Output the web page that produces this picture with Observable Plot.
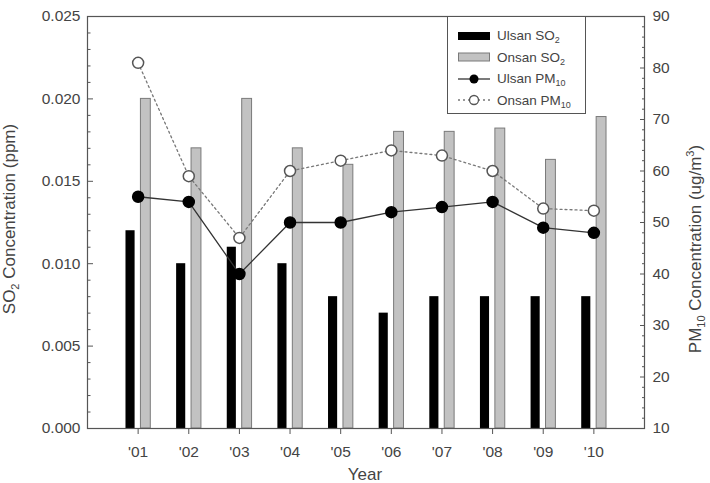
<!DOCTYPE html>
<html>
<head>
<meta charset="utf-8">
<script src="https://cdn.jsdelivr.net/npm/d3@7"></script>
<script src="https://cdn.jsdelivr.net/npm/@observablehq/plot@0.6"></script>
<style>
  html, body { margin: 0; padding: 0; background: #fff; }
  #wrap { position: relative; width: 710px; height: 483px; overflow: hidden; font-family: "Liberation Sans", Arial, sans-serif; }
  #legend { position: absolute; left: 447px; top: 16px; width: 139px; height: 98px; box-sizing: border-box;
    border: 1.2px solid #555; background: #fff; padding-top: 8px; color: #444; font-size: 13.5px; }
  #legend .row { display: flex; align-items: center; height: 21.5px; }
  #legend svg { margin-left: 10px; margin-right: 7px; flex: none; }
  #legend sub { font-size: 9px; vertical-align: -3px; line-height: 0; }
</style>
</head>
<body>
<div id="wrap"></div>
<script>
// ---- data ----
const years = [2001, 2002, 2003, 2004, 2005, 2006, 2007, 2008, 2009, 2010];
const yearLabels = ["'01", "'02", "'03", "'04", "'05", "'06", "'07", "'08", "'09", "'10"];
const ulsanSO2 = [0.012, 0.010, 0.011, 0.010, 0.008, 0.007, 0.008, 0.008, 0.008, 0.008];
const onsanSO2 = [0.020, 0.017, 0.020, 0.017, 0.016, 0.018, 0.018, 0.0182, 0.0163, 0.0189];
const ulsanPM10 = [55, 54, 40, 50, 50, 52, 53, 54, 49, 48];
const onsanPM10 = [81, 59, 47, 60, 62, 64, 63, 60, 52.7, 52.3];
const so2Ticks = [0, 0.005, 0.010, 0.015, 0.020, 0.025];
const pmTicks = [10, 20, 30, 40, 50, 60, 70, 80, 90];

// ---- helpers ----
const pmToY = d3.scaleLinear([10, 90], [0, 0.025]);
const so2Minor = d3.range(0, 0.02501, 0.001).filter(v => Math.abs(v / 0.005 - Math.round(v / 0.005)) > 1e-6);
const pmMinor = d3.range(10, 90.01, 2).filter(v => v % 10 !== 0);

const ulsanBars = years.map((yr, i) => ({year: yr, v: ulsanSO2[i]}));
const onsanBars = years.map((yr, i) => ({year: yr, v: onsanSO2[i]}));
const ulsanPm = years.map((yr, i) => ({year: yr, v: pmToY(ulsanPM10[i])}));
const onsanPm = years.map((yr, i) => ({year: yr, v: pmToY(onsanPM10[i])}));

const axisColor = "#555";

const plot = Plot.plot({
  width: 710, height: 483,
  marginLeft: 87, marginRight: 66, marginTop: 16, marginBottom: 55,
  x: {type: "linear", domain: [2000, 2011]},
  y: {domain: [0, 0.025]},
  style: {fontFamily: "'Liberation Sans', Arial, sans-serif", fontSize: "15.5px", color: "#444", background: "#fff"},
  marks: [
    Plot.rectY(ulsanBars, {x1: d => d.year - 0.24, x2: d => d.year - 0.06, y: "v", fill: "#000"}),
    Plot.rectY(onsanBars, {x1: d => d.year + 0.055, x2: d => d.year + 0.25, y: "v", fill: "#c2c2c2", stroke: "#7a7a7a", strokeWidth: 1}),
    Plot.line(onsanPm, {x: "year", y: "v", stroke: "#777", strokeWidth: 1.3, strokeDasharray: "2,3"}),
    Plot.line(ulsanPm, {x: "year", y: "v", stroke: "#333", strokeWidth: 1.3}),
    Plot.dot(onsanPm, {x: "year", y: "v", r: 5.5, fill: "#fff", stroke: "#555", strokeWidth: 1.5}),
    Plot.dot(ulsanPm, {x: "year", y: "v", r: 5.5, fill: "#000", stroke: "#000"}),
    Plot.frame({stroke: axisColor, strokeWidth: 1.2}),
    Plot.axisY({ticks: so2Ticks, tickSize: -6, tickPadding: 13, tickFormat: d3.format(".3f"), label: null, stroke: axisColor}),
    Plot.axisY({ticks: so2Minor, tickSize: -3.5, tickFormat: () => "", label: null, stroke: axisColor}),
    Plot.axisY({anchor: "right", ticks: pmTicks.map(pmToY), tickSize: -5, tickPadding: 13,
      tickFormat: d => String(Math.round(pmToY.invert(d))), label: null, stroke: axisColor}),
    Plot.axisY({anchor: "right", ticks: pmMinor.map(pmToY), tickSize: -3, tickFormat: () => "", label: null, stroke: axisColor}),
    Plot.axisX({ticks: years, tickSize: 6, tickPadding: 11, tickFormat: d => yearLabels[years.indexOf(d)], label: null, stroke: axisColor})
  ]
});

// ---- axis titles with sub/superscripts ----
const svg = d3.select(plot);
function addTitle(tx, ty, rot, parts) {
  const t = svg.append("text")
    .attr("transform", `translate(${tx},${ty})` + (rot ? ` rotate(${rot})` : ""))
    .attr("text-anchor", "middle")
    .attr("fill", "#444")
    .style("font-size", "17px")
    .style("font-family", "'Liberation Sans', Arial, sans-serif");
  let shift = 0;
  for (const [s, kind] of parts) {
    const target = kind === "sub" ? 4 : kind === "sup" ? -7 : 0;
    const sp = t.append("tspan").text(s).attr("dy", target - shift);
    if (kind) sp.style("font-size", "11px");
    shift = target;
  }
}
addTitle(15, 219, -90, [["SO", null], ["2", "sub"], [" Concentration (ppm)", null]]);
addTitle(701, 249, -90, [["PM", null], ["10", "sub"], [" Concentration (ug/m", null], ["3", "sup"], [")", null]]);
addTitle(365, 480, 0, [["Year", null]]);

const wrap = document.getElementById("wrap");
wrap.appendChild(plot);

// ---- legend ----
const legend = document.createElement("div");
legend.id = "legend";
legend.innerHTML = `
  <div class="row"><svg width="32" height="12"><rect x="0" y="2" width="32" height="8" fill="#000"/></svg><span>Ulsan SO<sub>2</sub></span></div>
  <div class="row"><svg width="32" height="12"><rect x="0.5" y="2" width="31" height="8" fill="#c2c2c2" stroke="#7a7a7a"/></svg><span>Onsan SO<sub>2</sub></span></div>
  <div class="row"><svg width="32" height="12"><line x1="0" x2="32" y1="6" y2="6" stroke="#333" stroke-width="1.3"/><circle cx="16" cy="6" r="4.5" fill="#000"/></svg><span>Ulsan PM<sub>10</sub></span></div>
  <div class="row"><svg width="32" height="12"><line x1="0" x2="32" y1="6" y2="6" stroke="#777" stroke-width="1.3" stroke-dasharray="2,3"/><circle cx="16" cy="6" r="4.5" fill="#fff" stroke="#555" stroke-width="1.3"/></svg><span>Onsan PM<sub>10</sub></span></div>`;
wrap.appendChild(legend);
</script>
</body>
</html>
